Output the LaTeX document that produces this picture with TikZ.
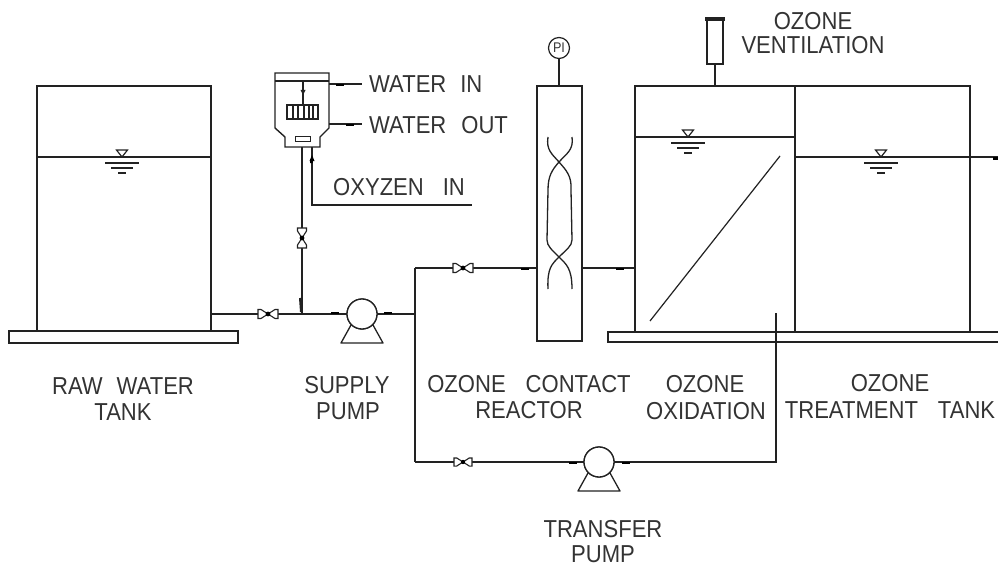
\documentclass[tikz,border=0pt]{standalone}
\usepackage{fontspec}
\setmainfont[FakeStretch=0.9]{Liberation Sans}
\definecolor{ink}{HTML}{222222}
\definecolor{txt}{HTML}{333333}
\tikzset{
  x=1pt,y=-1pt,
  pipe/.style={draw=ink,line width=1.4pt},
  box/.style={draw=ink,line width=1.4pt,fill=white,anchor=north west,inner sep=0pt,outer sep=0pt},
  pumpbody/.style={circle,draw=ink,line width=1.3pt,fill=white,minimum size=30pt,inner sep=0pt,outer sep=0pt},
  tick/.style={draw=black,line width=2.2pt},
  lbl/.style={font=\fontsize{24.5}{24.5}\selectfont,text=txt,inner sep=0pt,anchor=center},
  valveh/.pic={
    \draw[ink,line width=1.1pt,fill=white] (-10,-4.5)--(-7,-4.5)--(0,0)--(-7,4.5)--(-10,4.5)--cycle;
    \draw[ink,line width=1.1pt,fill=white] (10,-4.5)--(7,-4.5)--(0,0)--(7,4.5)--(10,4.5)--cycle;
    \fill[black] (0,0) circle (2.4pt);
  },
  pumpbase/.pic={
    \draw[ink,line width=1.3pt,line join=round] (-11,11)--(-21,29)--(21,29)--(11,11);
  },
  water/.pic={
    \draw[ink,line width=1.2pt,fill=white] (-5.5,-7)--(5.5,-7)--(0,0)--cycle;
    \draw[ink,line width=1.2pt] (-17,6)--(17,6) (-11,11)--(11,11) (-4,16)--(4,16);
  }
}
\begin{document}
\begin{tikzpicture}
\useasboundingbox (0,0) rectangle (998,567);
% tanks and bases
\node[box,minimum width=229pt,minimum height=12pt] (rawbase) at (9,331) {};
\node[box,minimum width=174pt,minimum height=245pt] (raw) at (37,86) {};
\node[box,minimum width=395pt,minimum height=10pt] (trbase) at (608,332) {};
\node[box,minimum width=160pt,minimum height=246pt] (oxid) at (635,86) {};
\node[box,minimum width=175pt,minimum height=246pt] (treat) at (795,86) {};
\node[box,minimum width=45pt,minimum height=255pt] (reactor) at (537,86) {};
% water levels
\draw[pipe] (raw.west |- 0,157) -- (raw.east |- 0,157);
\draw[pipe] (oxid.west |- 0,137) -- (oxid.east |- 0,137);
\coordinate (outl) at (998,157);
\draw[pipe] (treat.west |- 0,157) -- (outl);
\draw[tick,line width=3pt] (993,158) -- (998,158);
\pic at (122,157) {water};
\pic at (688,137) {water};
\pic at (881,157) {water};
% diagonal baffle
\draw[ink,line width=1.2pt] (650,321) -- (780,156);
% reactor coils
\draw[ink,line width=1.3pt] (548,137) .. controls (546,150) and (552,154) .. (559,162)
  .. controls (566,170) and (572,176) .. (571,190) -- (572,240)
  .. controls (572,246) and (566,250) .. (559,257)
  .. controls (552,264) and (547,268) .. (548,289);
\draw[ink,line width=1.3pt] (572,137) .. controls (574,150) and (566,154) .. (559,162)
  .. controls (552,170) and (548,176) .. (548,190) -- (547,240)
  .. controls (547,246) and (552,250) .. (559,257)
  .. controls (566,264) and (572,268) .. (572,289);
% PI gauge
\node[circle,draw=ink,line width=1.2pt,minimum size=21pt,inner sep=0pt,font=\fontsize{14}{14}\selectfont,text=txt] (pi) at (559,48) {PI};
\draw[pipe] (pi.south) -- (pi.south |- reactor.north);
% ventilation
\node[box,minimum width=16pt,minimum height=45pt] (vent) at (707,19) {};
\node[draw=ink,fill=ink,minimum width=19pt,minimum height=3pt,inner sep=0pt,anchor=center] (ventcap) at (715,19) {};
\draw[pipe] (vent.south) -- (vent.south |- oxid.north);
% generator
\node[minimum width=0pt,inner sep=0pt] (gen) at (302,147) {};
\draw[ink,line width=1.4pt,fill=white,line join=miter] (275,73) -- (329,73) -- (329,128) -- (320,137) -- (320,147) -- (285,147) -- (285,137) -- (275,128) -- cycle;
\draw[pipe] (275,81) -- (329,81);
\node[box,minimum width=31pt,minimum height=14pt,line width=1.7pt] (cell) at (287,105) {};
\foreach \xx in {293,298,304,309,313}{\draw[ink,line width=1.3pt] (\xx,105) -- (\xx,119);}
\coordinate (stemtop) at (303,81);
\draw[ink,line width=1.1pt] (stemtop) -- (cell.north -| stemtop);
\fill[ink] (300.5,90) -- (305.5,90) -- (303,95) -- cycle;
\node[box,minimum width=15pt,minimum height=4pt,line width=1pt] (cell2) at (295,137) {};
% generator connections
\coordinate (win) at (362,84);
\coordinate (wout) at (362,124);
\draw[pipe] (329,84) -- (win);
\draw[pipe] (329,124) -- (wout);
\draw[tick] (336,85) -- (344,85);
\draw[tick] (346,125) -- (354,125);
\coordinate (oxya) at (312,147);
\coordinate (oxyb) at (472,205);
\draw[pipe] (oxya) -- (oxya |- oxyb) -- (oxyb);
\fill[black] (312,155) -- (314.5,161) -- (312.8,161) -- (312.8,163) -- (310.2,163) -- (310.2,161) -- (309.5,161) -- cycle;
% pipes
\node[pumpbody] (p1) at (362,314) {};
\node[pumpbody] (p2) at (599,462) {};
\coordinate (v1) at (268,314);
\coordinate (v2) at (302,238);
\coordinate (v3) at (463,268);
\coordinate (v4) at (463,462);
\coordinate (jn) at (302,314);
\coordinate (jr) at (415,314);
\coordinate (tr) at (415,268);
\coordinate (br) at (415,462);
\coordinate (rc) at (776,462);
\coordinate (re) at (776,313);
\draw[pipe] (raw.east |- 0,314) -- (v1) -- (jn) -- (p1.west);
\draw[pipe] (jn) -- (v2) -- (gen.center);
\draw[pipe] (p1.east) -- (jr);
\draw[pipe] (tr) -- (br);
\draw[pipe] (tr) -- (v3) -- (reactor.west |- tr);
\draw[pipe] (reactor.east |- 0,268) -- (oxid.west |- 0,268);
\draw[pipe] (br) -- (v4) -- (p2.west);
\draw[pipe] (p2.east) -- (rc) -- (re);
\pic at (p1) {pumpbase};
\pic at (p2) {pumpbase};
\node[pumpbody] at (p1) {};
\node[pumpbody] at (p2) {};
\pic at (v1) {valveh};
\pic[rotate=90] at (v2) {valveh};
\pic at (v3) {valveh};
\pic[scale=0.9] at (v4) {valveh};
% ticks
\draw[tick] (331,313) -- (339,313);
\draw[tick] (384,313) -- (392,313);
\draw[tick] (521,269) -- (529,269);
\draw[tick] (616,269) -- (624,269);
\draw[tick] (569,463) -- (577,463);
\draw[tick] (622,463) -- (630,463);
\draw[ink,line width=2pt] (300,298) -- (301,312);
% labels
\node[lbl] (t1) at (123,386) {RAW\hspace{14pt}WATER};
\node[lbl] (t2) at (123,412) {TANK};
\node[lbl] (t3) at (347,385) {SUPPLY};
\node[lbl] (t4) at (348,411) {PUMP};
\node[lbl] (t5) at (529,384) {OZONE\hspace{20pt}CONTACT};
\node[lbl] (t6) at (529,410) {REACTOR};
\node[lbl] (t7) at (705,384) {OZONE};
\node[lbl] (t8) at (706,411) {OXIDATION};
\node[lbl] (t9) at (890,383) {OZONE};
\node[lbl] (t10) at (890,410) {TREATMENT\hspace{20pt}TANK};
\node[lbl] (t11) at (603,529) {TRANSFER};
\node[lbl] (t12) at (603,554) {PUMP};
\node[lbl] (t13) at (813,21) {OZONE};
\node[lbl] (t14) at (813,45) {VENTILATION};
\node[lbl,anchor=west] (t15) at (369,84) {WATER\hspace{14pt}IN};
\node[lbl,anchor=west] (t16) at (369,125) {WATER\hspace{15pt}OUT};
\node[lbl,anchor=west] (t17) at (333,187) {OXYZEN\hspace{19pt}IN};
\end{tikzpicture}
\end{document}
